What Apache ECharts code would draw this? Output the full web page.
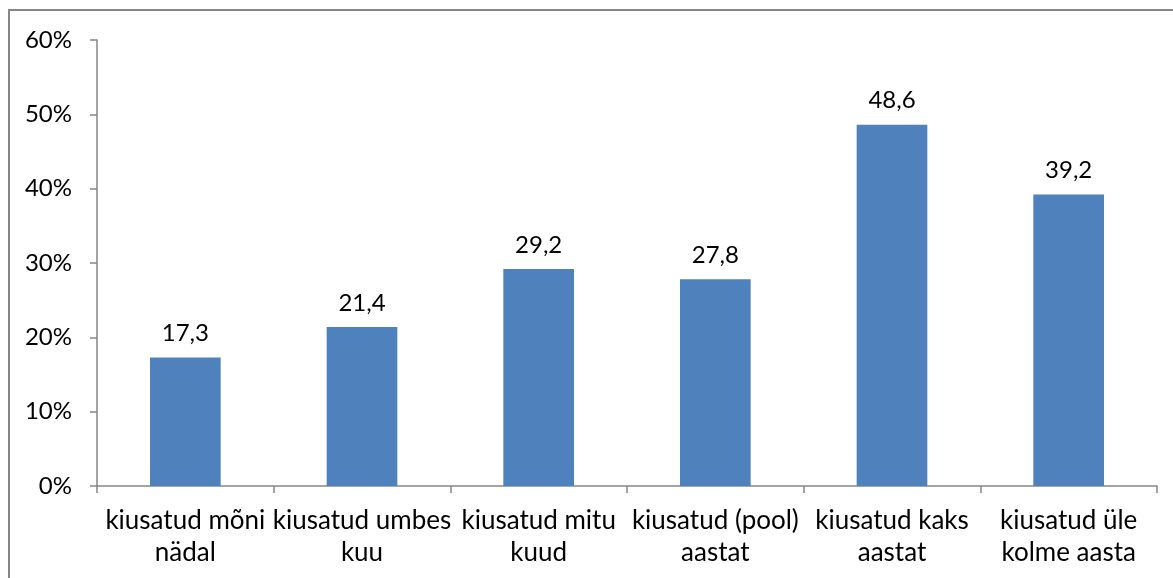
<!DOCTYPE html>
<html>
<head>
<meta charset="utf-8">
<script src="https://cdn.jsdelivr.net/npm/echarts@6/dist/echarts.min.js"></script>
<style>
  html, body { margin: 0; padding: 0; background: #fff; }
  #chart { width: 1173px; height: 578px; }
</style>
</head>
<body>
<div id="chart"></div>
<script>
const categories = [
  'kiusatud mõni\nnädal',
  'kiusatud umbes\nkuu',
  'kiusatud mitu\nkuud',
  'kiusatud (pool)\naastat',
  'kiusatud kaks\naastat',
  'kiusatud üle\nkolme aasta'
];
const values = [17.3, 21.4, 29.2, 27.8, 48.6, 39.2];
const yTicks = [0, 10, 20, 30, 40, 50, 60];

const axisColor = '#868686';
const font = 'Lato, "Open Sans", sans-serif';

const chart = echarts.init(document.getElementById('chart'));

const option = {
  animation: false,
  backgroundColor: '#fff',
  graphic: [
    {
      type: 'rect',
      shape: { x: 9, y: 10, width: 1300, height: 700 },
      style: { fill: 'none', stroke: axisColor, lineWidth: 2 },
      silent: true
    }
  ],
  grid: {
    left: 97,
    right: 16,
    top: 40,
    bottom: 92,
    containLabel: false
  },
  xAxis: {
    type: 'category',
    data: categories,
    axisLine: { lineStyle: { color: axisColor, width: 1.5 } },
    axisTick: { show: true, length: 7, lineStyle: { color: axisColor, width: 1.5 } },
    axisLabel: {
      interval: 0,
      margin: 19,
      color: '#000',
      fontFamily: font,
      fontSize: 26,
      lineHeight: 32
    }
  },
  yAxis: {
    type: 'value',
    min: yTicks[0],
    max: yTicks[yTicks.length - 1],
    interval: 10,
    axisLine: { show: true, lineStyle: { color: axisColor, width: 1.5 } },
    axisTick: { show: true, length: 7, lineStyle: { color: axisColor, width: 1.5 } },
    splitLine: { show: false },
    axisLabel: {
      margin: 25,
      color: '#000',
      fontFamily: font,
      fontSize: 24,
      formatter: (v) => v + '%'
    }
  },
  series: [
    {
      type: 'bar',
      data: values,
      barWidth: '40%',
      itemStyle: { color: '#4F81BD' },
      label: {
        show: true,
        position: 'top',
        distance: 12,
        color: '#000',
        fontFamily: font,
        fontSize: 24,
        formatter: (p) => String(p.value).replace('.', ',')
      }
    }
  ]
};

chart.setOption(option);
</script>
</body>
</html>
